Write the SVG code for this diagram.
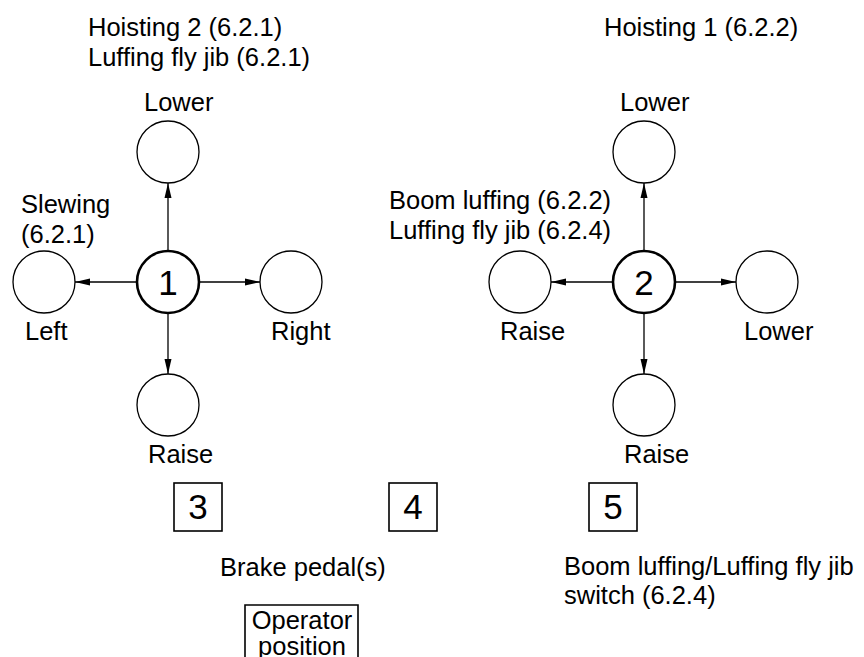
<svg xmlns="http://www.w3.org/2000/svg" width="864" height="657" viewBox="0 0 864 657">
  <style>
    text { font-family: "Liberation Sans", Arial, sans-serif; font-size: 25.5px; fill: #000; }
    .num { font-size: 35px; text-anchor: middle; }
    .pos { fill: #fff; stroke: #000; stroke-width: 1.3; }
    .hub { fill: #fff; stroke: #000; stroke-width: 2.6; }
    .box { fill: #fff; stroke: #000; stroke-width: 1.6; }
    .link { stroke: #000; stroke-width: 1.3; fill: none; marker-end: url(#tip); }
  </style>
  <defs>
    <marker id="tip" markerUnits="userSpaceOnUse" markerWidth="15" markerHeight="8" viewBox="0 0 15 8" refX="15" refY="4" orient="auto">
      <path d="M0,0.5 L15,4 L0,7.5 Z" fill="#000"/>
    </marker>
  </defs>
  <rect width="864" height="657" fill="#fff"/>

  <!-- headings -->
  <g id="labels">
    <text x="88" y="36">Hoisting 2 (6.2.1)</text>
    <text x="88" y="66">Luffing fly jib (6.2.1)</text>
    <text x="604" y="36">Hoisting 1 (6.2.2)</text>
    <text x="21" y="213">Slewing</text>
    <text x="21" y="243">(6.2.1)</text>
    <text x="389" y="209">Boom luffing (6.2.2)</text>
    <text x="389" y="239">Luffing fly jib (6.2.4)</text>
  </g>

  <!-- connectors -->
  <g id="connectors">
    <line class="link" x1="168" y1="251" x2="168" y2="183"/>
    <line class="link" x1="137" y1="282" x2="75" y2="282"/>
    <line class="link" x1="199" y1="282" x2="260" y2="282"/>
    <line class="link" x1="168" y1="313" x2="168" y2="374"/>
    <line class="link" x1="644" y1="251" x2="644" y2="183"/>
    <line class="link" x1="613" y1="282" x2="551" y2="282"/>
    <line class="link" x1="675" y1="282" x2="736" y2="282"/>
    <line class="link" x1="644" y1="313" x2="644" y2="374"/>
  </g>

  <!-- lever 1 -->
  <g id="lever1">
    <circle class="hub" cx="168" cy="282" r="31"/>
    <text class="num" x="168" y="295">1</text>
  </g>
  <g id="lever1-lower">
    <circle class="pos" cx="168" cy="152" r="31"/>
    <text x="144" y="111">Lower</text>
  </g>
  <g id="lever1-left">
    <circle class="pos" cx="44" cy="282" r="31"/>
    <text x="25" y="340">Left</text>
  </g>
  <g id="lever1-right">
    <circle class="pos" cx="291" cy="282" r="31"/>
    <text x="271" y="340">Right</text>
  </g>
  <g id="lever1-raise">
    <circle class="pos" cx="168" cy="405" r="31"/>
    <text x="148" y="463">Raise</text>
  </g>

  <!-- lever 2 -->
  <g id="lever2">
    <circle class="hub" cx="644" cy="282" r="31"/>
    <text class="num" x="644" y="295">2</text>
  </g>
  <g id="lever2-lower">
    <circle class="pos" cx="644" cy="152" r="31"/>
    <text x="620" y="111">Lower</text>
  </g>
  <g id="lever2-boom-raise">
    <circle class="pos" cx="520" cy="282" r="31"/>
    <text x="500" y="340">Raise</text>
  </g>
  <g id="lever2-boom-lower">
    <circle class="pos" cx="767" cy="282" r="31"/>
    <text x="744" y="340">Lower</text>
  </g>
  <g id="lever2-raise">
    <circle class="pos" cx="644" cy="405" r="31"/>
    <text x="624" y="463">Raise</text>
  </g>

  <!-- pedals and switch -->
  <g id="item3">
    <rect class="box" x="174" y="483" width="48" height="48"/>
    <text class="num" x="198" y="519">3</text>
  </g>
  <g id="item4">
    <rect class="box" x="389" y="483" width="48" height="48"/>
    <text class="num" x="413" y="519">4</text>
  </g>
  <g id="item5">
    <rect class="box" x="589" y="483" width="48" height="48"/>
    <text class="num" x="613" y="519">5</text>
  </g>
  <g id="captions">
    <text x="220" y="576">Brake pedal(s)</text>
    <text x="564" y="575">Boom luffing/Luffing fly jib</text>
    <text x="564" y="604">switch (6.2.4)</text>
  </g>

  <!-- operator seat -->
  <g id="operator">
    <path class="box" d="M245,660 V605 H358 V660" fill="none"/>
    <text x="302" y="629" text-anchor="middle">Operator</text>
    <text x="302" y="655" text-anchor="middle">position</text>
  </g>
</svg>
